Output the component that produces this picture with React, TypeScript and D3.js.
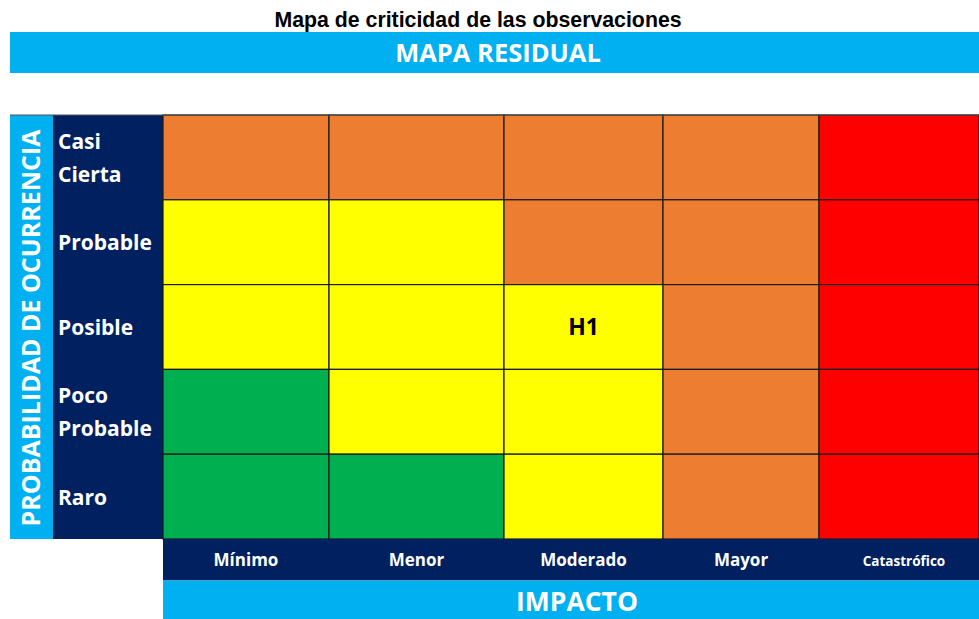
import React, { useEffect, useRef } from "react";
import * as d3 from "d3";

// ---- data ----
const chartTitle = "Mapa de criticidad de las observaciones";
const bannerTitle = "MAPA RESIDUAL";
const yAxisTitle = "PROBABILIDAD DE OCURRENCIA";
const xAxisTitle = "IMPACTO";

const probabilities = ["Casi Cierta", "Probable", "Posible", "Poco Probable", "Raro"];
const probabilityLines = [["Casi", "Cierta"], ["Probable"], ["Posible"], ["Poco", "Probable"], ["Raro"]];
const impacts = ["Mínimo", "Menor", "Moderado", "Mayor", "Catastrófico"];

// risk level per cell (row = probability, column = impact)
const riskCasiCierta = ["Alto", "Alto", "Alto", "Alto", "Extremo"];
const riskProbable = ["Moderado", "Moderado", "Alto", "Alto", "Extremo"];
const riskPosible = ["Moderado", "Moderado", "Moderado", "Alto", "Extremo"];
const riskPocoProbable = ["Bajo", "Moderado", "Moderado", "Alto", "Extremo"];
const riskRaro = ["Bajo", "Bajo", "Moderado", "Alto", "Extremo"];

const observationIds = ["H1"];
const observationProbability = ["Posible"];
const observationImpact = ["Moderado"];

// ---- styles / layout ----
const W = 979;
const H = 619;
const riskColors: Record<string, string> = {
  Bajo: "#00B050",
  Moderado: "#FFFF00",
  Alto: "#ED7D31",
  Extremo: "#FF0000",
};
const NAVY = "#002060";
const SKY = "#00B0F0";
const FONT = "'Open Sans', Calibri, sans-serif";
const colWeights = [166, 175, 159, 156, 160];

export default function App() {
  const ref = useRef<SVGSVGElement | null>(null);

  useEffect(() => {
    const svg = d3.select(ref.current);
    svg.selectAll("*").remove();

    const gridX0 = 163, gridX1 = W, gridY0 = 115, gridY1 = 539;
    const leftX0 = 10, labelX0 = 53;

    const riskMatrix = [riskCasiCierta, riskProbable, riskPosible, riskPocoProbable, riskRaro];

    const y = d3.scaleBand<string>().domain(probabilities).range([gridY0, gridY1]).paddingInner(0).paddingOuter(0);
    const cum = d3.cumsum(colWeights);
    const total = cum[cum.length - 1];
    const wx = d3.scaleLinear().domain([0, total]).range([gridX0, gridX1]);
    const colLeft = (i: number) => wx(i === 0 ? 0 : cum[i - 1]);
    const colRight = (i: number) => wx(cum[i]);
    const x = d3.scaleOrdinal<string, number>().domain(impacts).range(impacts.map((_, i) => colLeft(i)));
    const xw = (name: string) => {
      const i = impacts.indexOf(name);
      return colRight(i) - colLeft(i);
    };

    svg.append("rect").attr("width", W).attr("height", H).attr("fill", "#fff");

    // title
    svg.append("text")
      .attr("x", 478).attr("y", 27)
      .attr("text-anchor", "middle")
      .attr("font-family", "'Liberation Sans', Arial, sans-serif")
      .attr("font-weight", "bold").attr("font-size", 21.3)
      .attr("fill", "#000")
      .text(chartTitle);

    // banner
    svg.append("rect").attr("x", 10).attr("y", 32).attr("width", W - 10).attr("height", 41).attr("fill", SKY);
    svg.append("text")
      .attr("x", 498).attr("y", 62)
      .attr("text-anchor", "middle")
      .attr("font-family", FONT).attr("font-weight", "bold").attr("font-size", 25.5)
      .attr("fill", "#fff")
      .text(bannerTitle);

    // left sky bar + vertical title
    svg.append("rect").attr("x", leftX0).attr("y", gridY0).attr("width", labelX0 - leftX0).attr("height", gridY1 - gridY0).attr("fill", SKY);
    svg.append("text")
      .attr("transform", `translate(40,${(gridY0 + gridY1) / 2 + 1}) rotate(-90)`)
      .attr("text-anchor", "middle")
      .attr("font-family", FONT).attr("font-weight", "bold").attr("font-size", 25)
      .attr("fill", "#fff")
      .text(yAxisTitle);

    // navy label column
    svg.append("rect").attr("x", labelX0).attr("y", gridY0).attr("width", gridX0 - labelX0).attr("height", gridY1 - gridY0).attr("fill", NAVY);
    const lbl = svg.append("g");
    probabilities.forEach((p, i) => {
      const lines = probabilityLines[i];
      const cy = (y(p) as number) + y.bandwidth() / 2;
      const lh = 33;
      lines.forEach((ln, j) => {
        const off = (j - (lines.length - 1) / 2) * lh;
        lbl.append("text")
          .attr("x", 58).attr("y", cy + off + 8)
          .attr("font-family", FONT).attr("font-weight", "bold").attr("font-size", 21)
          .attr("fill", "#fff")
          .text(ln);
      });
    });

    // cells
    const cells = svg.append("g");
    probabilities.forEach((p, r) => {
      impacts.forEach((im, c) => {
        cells.append("rect")
          .attr("x", x(im)).attr("y", y(p) as number)
          .attr("width", xw(im)).attr("height", y.bandwidth())
          .attr("fill", riskColors[riskMatrix[r][c]])
          .attr("stroke", "#1a1a1a").attr("stroke-width", 1.2);
      });
    });
    // top border line (grayish)
    svg.append("line").attr("x1", leftX0).attr("x2", W).attr("y1", gridY0).attr("y2", gridY0)
      .attr("stroke", "#555").attr("stroke-width", 1.2);

    // observations
    observationIds.forEach((id, k) => {
      const im = observationImpact[k];
      const p = observationProbability[k];
      svg.append("text")
        .attr("x", (x(im) as number) + xw(im) / 2)
        .attr("y", (y(p) as number) + y.bandwidth() / 2 + 8)
        .attr("text-anchor", "middle")
        .attr("font-family", FONT).attr("font-weight", "bold").attr("font-size", 23)
        .attr("fill", "#000")
        .text(id);
    });

    // bottom navy axis band
    const bandY0 = gridY1, bandY1 = 580.5;
    svg.append("rect").attr("x", gridX0).attr("y", bandY0).attr("width", W - gridX0).attr("height", bandY1 - bandY0).attr("fill", NAVY);
    impacts.forEach((im) => {
      const small = im === "Catastrófico";
      svg.append("text")
        .attr("x", (x(im) as number) + xw(im) / 2 + (small ? 5 : 0))
        .attr("y", 566)
        .attr("text-anchor", "middle")
        .attr("font-family", FONT).attr("font-weight", "bold").attr("font-size", small ? 13.5 : 17)
        .attr("fill", "#fff")
        .text(im);
    });

    // bottom sky band
    svg.append("rect").attr("x", gridX0).attr("y", bandY1).attr("width", W - gridX0).attr("height", H - bandY1).attr("fill", SKY);
    svg.append("text")
      .attr("x", 577).attr("y", 611)
      .attr("text-anchor", "middle")
      .attr("font-family", FONT).attr("font-weight", "bold").attr("font-size", 26.5)
      .attr("fill", "#fff")
      .text(xAxisTitle);
  }, []);

  return (
    <svg
      ref={ref}
      width={W}
      height={H}
      style={{ position: "fixed", left: 0, top: 0, display: "block" }}
    />
  );
}
